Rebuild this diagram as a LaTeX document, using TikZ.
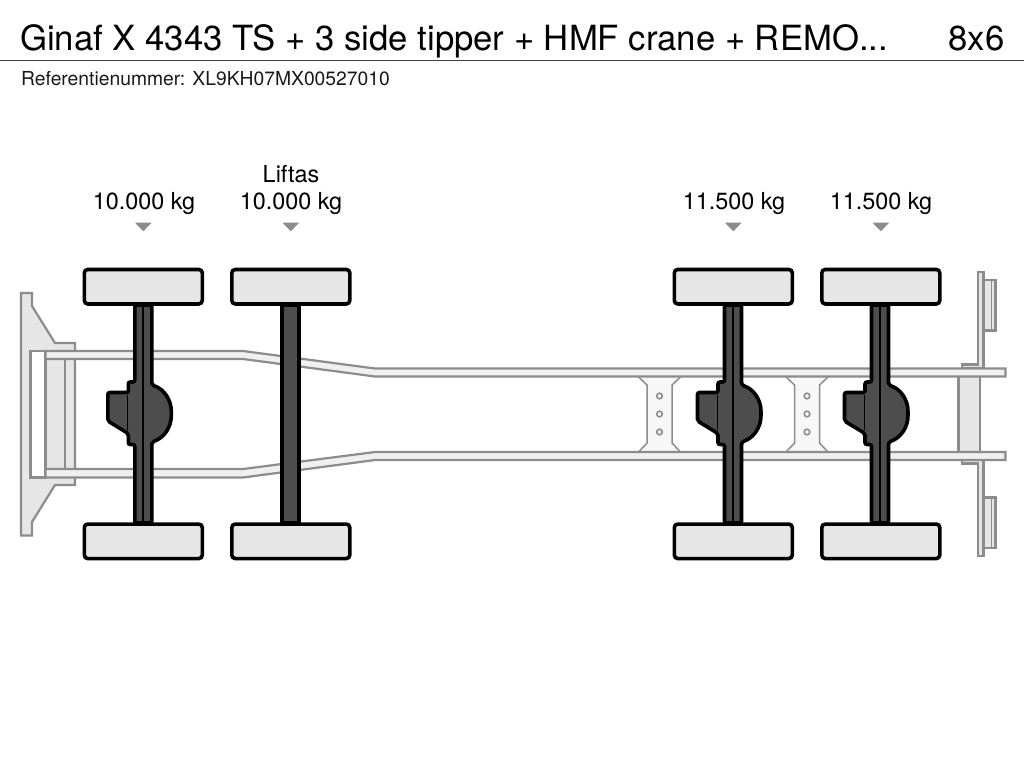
\documentclass[tikz,border=0pt]{standalone}
\usepackage{fontspec}
\setmainfont{TeX Gyre Heros}
\usetikzlibrary{positioning}
\definecolor{steelgray}{HTML}{8C8C8C}
\definecolor{partfill}{HTML}{E6E6E6}
\definecolor{railfill}{HTML}{F0F0F0}
\definecolor{platefill}{HTML}{F7F7F7}
\definecolor{axlefill}{HTML}{4D4D4D}
\tikzset{
  part/.style={draw=steelgray, fill=partfill, line width=2.2pt, line join=miter},
  rail/.style={part, fill=railfill},
  hole/.style={draw=steelgray, fill=white, line width=1.6pt},
  axle/.style={draw=black, fill=axlefill, line width=3.6pt, rounded corners=2pt},
  wheel/.style={draw=black, fill=partfill, line width=3.6pt, rounded corners=3.5pt,
    minimum width=118pt, minimum height=34.5pt, inner sep=0pt, outer sep=0pt},
  load/.style={font=\fontsize{23.4}{26}\selectfont, inner sep=0pt, anchor=base},
  marker/.style={fill=steelgray, draw=none}
}
\begin{document}
\begin{tikzpicture}[x=1pt, y=-1pt]
    \useasboundingbox (0,0) rectangle (1024,768);
    \node [anchor=base west, inner sep=0pt, font=\fontsize{34.7}{38}\selectfont] (title) at (20,50)
        {Ginaf X 4343 TS + 3 side tipper + HMF crane + REMO...};
    \node [anchor=base east, inner sep=0pt, font=\fontsize{34.7}{38}\selectfont] (config) at (1004.5,50) {8x6};
    \node [anchor=base west, inner sep=0pt, font=\fontsize{19.3}{22}\selectfont, text=black!90] (refnr) at (21,85)
        {Referentienummer: XL9KH07MX00527010};
    \coordinate (ruleL) at (0,60.7);
    \coordinate (ruleR) at (1024,60.7);
    \draw [black!75, line width=1.2pt] (ruleL) -- (ruleR);

    % front plate and crossmember
    \draw [part] (21,293) -- (32,293) -- (32,306) -- (55,343) -- (75,343) -- (75,351) -- (75,478)
        -- (75,485) -- (55,485) -- (32,522) -- (32,535.5) -- (21,535.5) -- cycle;
    \draw [part, fill=white] (30.5,351) rectangle (45.5,477.5);
    \draw [part] (45.5,359) rectangle (65,469);

    % rear plates
    \draw [part] (958.5,376) rectangle (980,452);
    \draw [part] (978,272) -- (983.5,272) -- (983.5,368) -- (962,368) -- (962,364.5) -- (978,364.5) -- cycle;
    \draw [part] (978,556) -- (983.5,556) -- (983.5,460) -- (962,460) -- (962,463.5) -- (978,463.5) -- cycle;
    \draw [part] (983.5,280) rectangle (995.5,330.5);
    \draw [part] (983.5,497.5) rectangle (995.5,548);
    \draw [steelgray, line width=1.5pt] (991.5,280) -- (991.5,330.5);
    \draw [steelgray, line width=1.5pt] (991.5,497.5) -- (991.5,548);

    % cross plates
    \foreach \cx in {659.5,807} {
        \fill [platefill] (\cx-21,377) -- (\cx+21,377) -- (\cx+12.5,385) -- (\cx+12.5,443)
            -- (\cx+21,452) -- (\cx-21,452) -- (\cx-12.5,443) -- (\cx-12.5,385) -- cycle;
        \draw [steelgray, line width=1.5pt] (\cx-21,377) -- (\cx-12.5,385) -- (\cx-12.5,443) -- (\cx-21,452);
        \draw [steelgray, line width=1.5pt] (\cx+21,377) -- (\cx+12.5,385) -- (\cx+12.5,443) -- (\cx+21,452);
        \foreach \hy in {396,414,432}
            \draw [hole] (\cx,\hy) circle (2.8pt);
    }

    % frame rails
    \draw [rail] (45.5,351) -- (243,351) -- (375,368.5) -- (1005.5,368.5) -- (1005.5,376.5)
        -- (375,376.5) -- (243,359) -- (45.5,359) -- cycle;
    \draw [rail] (45.5,469) -- (243,469) -- (375,452) -- (1005.5,452) -- (1005.5,460)
        -- (375,460) -- (243,477.5) -- (45.5,477.5) -- cycle;

    % axles with differential
    \foreach \ax in {143.3,733,880} {
        \begin{scope}[xshift=\ax pt]
            \draw [axle] (-8.5,305) -- (-8.5,382) -- (-15,382) -- (-15,392.5) -- (-35.5,392.5)
                -- (-35.5,421) -- (-15,433.5) -- (-15,444.5) -- (-8.5,444.5) -- (-8.5,523)
                -- (8.5,523) -- (8.5,442) .. controls (21,438) and (28,427) .. (28,413.5)
                .. controls (28,400) and (21,389) .. (8.5,385) -- (8.5,305) -- cycle;
            \draw [line width=1.8pt] (0,306) -- (0,522);
            \draw [line width=1.2pt] (-15.5,395) -- (-15.5,430);
        \end{scope}
    }
    \draw [axle, rounded corners=0pt] (282,305) rectangle (299,523);

    % wheels, markers and loads
    \foreach \nm/\wx in {a/143.3, b/290.8, c/733.3, d/880.8} {
        \node [wheel] (wheel-\nm-top) at (\wx,286.7) {};
        \node [wheel] (wheel-\nm-bot) at (\wx,541.3) {};
        \fill [marker] (\wx-8.3,222.7) -- (\wx+8.3,222.7) -- (\wx,231.3) -- cycle;
    }
    \node [load] (load-a) at (144,209.3) {10.000 kg};
    \node [load] (load-b) at (291,209.3) {10.000 kg};
    \node [load] (load-c) at (734,209.3) {11.500 kg};
    \node [load] (load-d) at (881,209.3) {11.500 kg};
    \node [load] (lift) at (291,182.7) {Liftas};
\end{tikzpicture}
\end{document}
